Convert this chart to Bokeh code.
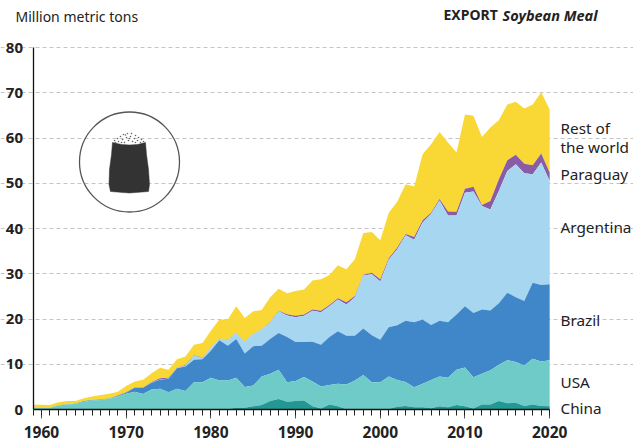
from bokeh.plotting import figure
from bokeh.models import Label, FixedTicker, Range1d
from bokeh.embed import file_html
from bokeh.resources import INLINE

years = list(range(1959, 2021))
# upper edge of each stacked band, million metric tons
china_top = [0]*22 + [.05,.1,.4,.4,.7,1.0,1.9,2.3,1.7,1.9,2.0,.7,.2,1.1,.7,.05,0,0,0,0,
    .1,.6,.8,.5,.5,.3,.7,.5,1.0,.7,.2,1.1,1.1,1.9,1.4,1.5,.8,1.1,.8,.7]
usa_top = [.4,.4,.4,.9,1.1,1.2,1.7,2.0,2.1,2.4,2.9,3.5,3.9,3.4,4.4,4.6,3.8,4.6,4.1,6.0,6.0,
    7.0,6.4,6.4,7.0,5.0,5.3,7.3,7.9,8.8,6.0,6.3,7.2,6.2,5.1,5.4,5.7,5.5,6.4,7.6,6.0,
    6.0,7.3,6.5,6.1,4.9,5.7,6.5,7.3,7.0,8.8,9.3,7.1,7.9,8.7,9.9,10.9,10.5,9.7,11.2,10.6,10.9]
brazil_top = [.4,.4,.4,.95,1.15,1.25,1.9,2.1,2.2,2.45,3.0,3.7,4.8,4.8,5.9,6.6,6.8,9.1,9.5,11,11.1,
    13,15.3,14.1,15.6,12.4,14.0,14.1,15.6,16.9,16,14.9,14.9,15.0,14.3,16.0,17.3,16.3,16.3,17.9,16.4,
    15.4,18.2,18.6,19.6,19.3,19.9,18.7,19.6,19.3,21,22.8,21.3,22.1,21.9,23.5,25.8,24.8,24,28,27.5,27.7]
argentina_top = [.4,.4,.4,.95,1.15,1.25,1.9,2.1,2.2,2.45,3.0,3.7,4.8,4.8,5.95,6.65,6.85,9.15,9.65,11.9,11.4,
    13.6,15.6,15.4,16.9,15,16.7,17.7,19.3,21.7,20.8,20.4,20.7,21.8,21.5,22.8,24.3,23.2,24.8,29.6,29.9,
    28.3,33.1,35.4,38.5,37.5,41.3,43.2,46.2,42.9,42.9,47.9,48.2,45,44.2,48.3,52.7,54.2,52.2,52,54.6,50.5]
paraguay_top = [.4,.4,.4,.95,1.15,1.25,1.9,2.1,2.2,2.45,3.1,3.8,4.85,4.85,6.05,6.9,7.0,9.25,9.85,12.0,11.5,
    13.65,15.65,15.45,16.95,15.05,16.75,17.75,19.4,21.85,21.05,20.7,21.0,22.1,21.8,23.1,24.6,23.7,25.1,29.8,30.2,
    28.8,33.4,35.8,38.8,38.1,41.8,43.5,46.5,43.75,43.7,48.8,49.2,45.2,46.1,50.9,55.1,56.3,54.3,54,56.6,52.4]
rest_top = [1.05,1.05,1.0,1.6,1.9,1.9,2.5,2.9,3.2,3.5,3.9,5.2,6.2,6.6,8,9.2,8.8,11.1,11.7,14.3,14.7,
    17.4,19.9,19.9,22.8,20.2,21.7,22,24.8,26.7,25.7,26.2,26.5,28.5,28.8,29.7,31.9,31,33.2,39,39.2,
    37.4,43.5,45.9,49.8,49.3,56.4,58.6,61.3,59,56.8,65.2,64.9,60.2,62.3,63.9,67.4,68,66.5,67.4,70.1,66.3]

y_ticks = [0, 10, 20, 30, 40, 50, 60, 70, 80]
x_ticks = [1960, 1970, 1980, 1990, 2000, 2010, 2020]
bands = [
    (rest_top, paraguay_top, "#F9D835"),
    (paraguay_top, argentina_top, "#8A5CA5"),
    (argentina_top, brazil_top, "#A6D6F0"),
    (brazil_top, usa_top, "#3F87C9"),
    (usa_top, china_top, "#6ECBC7"),
    (china_top, [0]*62, "#239793"),
]
series_labels = [("Rest of", 128), ("the world", 147), ("Paraguay", 174), ("Argentina", 227),
                 ("Brazil", 320), ("USA", 382), ("China", 408)]

FONT = "Noto Sans"
W, H = 633, 443

def xd(px):
    return 1959 + (px - 33.5) / 8.47
def yd(py):
    return (410 - py) / 4.525

p = figure(width=W, height=H, output_backend="svg", toolbar_location=None,
           x_range=Range1d(xd(1), xd(W + 1)), y_range=Range1d(yd(H + 1), yd(1)),
           min_border=0)
p.outline_line_color = None
p.background_fill_color = None
p.xgrid.visible = False
p.ygrid.ticker = FixedTicker(ticks=y_ticks[1:])
p.ygrid.bounds = (1959, 2020)
p.ygrid.grid_line_color = "#c4c4c4"
p.ygrid.grid_line_dash = "4 3"
p.ygrid.grid_line_width = 1

p.yaxis.fixed_location = 1959
p.yaxis.bounds = (0, 80)
p.yaxis.ticker = FixedTicker(ticks=y_ticks)
p.yaxis.major_tick_line_color = None
p.yaxis.minor_tick_line_color = None
p.yaxis.axis_line_color = "#111111"
p.yaxis.axis_line_width = 1.3
p.yaxis.major_label_text_font = FONT
p.yaxis.major_label_text_font_style = "bold"
p.yaxis.major_label_text_font_size = "15px"
p.yaxis.major_label_text_color = "#222222"
p.yaxis.major_label_standoff = 4

p.xaxis.fixed_location = 0
p.xaxis.bounds = (1959, 2020)
p.xaxis.ticker = FixedTicker(ticks=x_ticks, minor_ticks=years)
p.xaxis.axis_line_color = "#111111"
p.xaxis.axis_line_width = 1.3
p.xaxis.major_tick_in = 0
p.xaxis.major_tick_out = 9
p.xaxis.minor_tick_in = 0
p.xaxis.minor_tick_out = 6
p.xaxis.major_tick_line_color = "#555555"
p.xaxis.minor_tick_line_color = "#222222"
p.xaxis.major_label_text_font = FONT
p.xaxis.major_label_text_font_style = "bold"
p.xaxis.major_label_text_font_size = "15.5px"
p.xaxis.major_label_text_color = "#222222"
p.xaxis.major_label_standoff = 7

for upper, lower, col in bands:
    p.varea(x=years, y1=lower, y2=upper, fill_color=col)

p.ellipse(x=[xd(130)], y=[yd(162.5)], width=100/8.47, height=100/4.525,
          fill_color=None, line_color="#555555", line_width=1.3)
bag_px = [(113,143),(122,145),(130,145.5),(138,145),(146,143),(147,155),(149,170),(150,185),(149,192),
          (130,193.5),(111,192),(109.5,185),(110,170),(112,155)]
p.patch([xd(a) for a, b in bag_px], [yd(b) for a, b in bag_px], fill_color="#333333", line_color="#333333", line_width=0.5)
dots_px = [(115,141),(118,139),(121,137),(124,135),(128,134),(132,134),(136,136),(139,138),(142,140),(144,142),
           (119,142),(123,140),(127,138),(131,137),(135,139),(138,141),(141,143),(116,143),(125,143),(129,141),
           (133,142),(136,143),(122,143),(126,135.5),(130,139)]
p.scatter([xd(a) for a, b in dots_px], [yd(b) for a, b in dots_px], size=1.6, marker="circle",
          fill_color="#666666", line_color=None)

def label(x, y, text, size="15.3px", style="normal", color="#222222", baseline="middle"):
    p.add_layout(Label(x=x, y=y, text=text, text_font=FONT, text_font_size=size,
                       text_font_style=style, text_color=color, text_baseline=baseline))

for name, py in series_labels:
    label(xd(561), yd(py), name)
label(xd(16), yd(17), "Million metric tons", size="14px")
label(xd(444), yd(15), "EXPORT", size="14px", style="bold")
label(xd(503), yd(15), "Soybean Meal", size="14.5px", style="bold italic")

open("out.html", "w").write(file_html(p, INLINE))
